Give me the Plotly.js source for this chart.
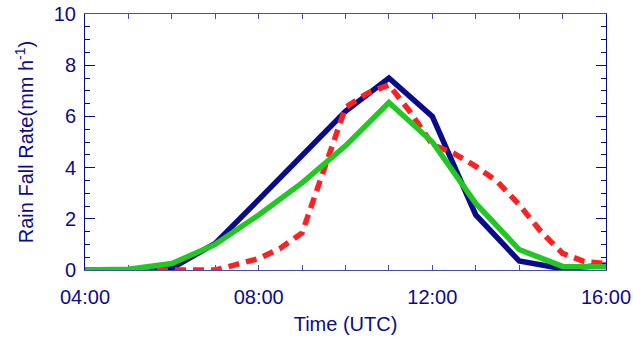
<!DOCTYPE html>
<html>
<head>
<meta charset="utf-8">
<script src="https://cdn.plot.ly/plotly-3.0.1.min.js"></script>
<style>
  html, body { margin: 0; padding: 0; background: #ffffff; }
  #chart { width: 633px; height: 340px; }
</style>
</head>
<body>
<div id="chart"></div>
<script>
// ---- data ----
const blueHours  = [4, 5, 6, 7, 8, 9, 10, 11, 12, 13, 14, 15, 16];
const blueRate   = [0, 0, 0.07, 1.04, 2.75, 4.5, 6.2, 7.5, 6.0, 2.15, 0.35, 0.05, 0.2];

const greenHours = [4, 5, 6, 7, 8, 9, 10, 11, 12, 13, 14, 15, 16];
const greenRate  = [0, 0.03, 0.25, 1.0, 2.15, 3.4, 4.85, 6.54, 5.0, 2.6, 0.8, 0.14, 0.13];

const redHours   = [4, 4.5, 5, 5.5, 6, 6.5, 7, 7.5, 8, 8.5, 9, 9.5, 10, 10.5, 11, 11.5, 12, 12.5, 13, 13.5, 14, 14.5, 15, 15.5, 16];
const redRate    = [0, 0, 0, 0, 0, 0, 0, 0.22, 0.45, 0.85, 1.45, 3.9, 6.35, 6.9, 7.23, 6.15, 4.9, 4.55, 4.05, 3.45, 2.55, 1.5, 0.65, 0.33, 0.25];

const xTickVals  = [4, 8, 12, 16];
const xTickText  = ['04:00', '08:00', '12:00', '16:00'];

const yTickVals  = [0, 2, 4, 6, 8, 10];
const yTickText  = ['0', '2', '4', '6', '8', '10'];

const navy = '#0b0b8a';
const axisLight = '#4a4ab4';
const fontFam = '"Liberation Sans", Arial, Helvetica, sans-serif';
const fs = 20;

const traces = [
  { x: blueHours, y: blueRate, type: 'scatter', mode: 'lines',
    line: { color: '#0a0a8c', width: 5.5 }, hoverinfo: 'skip' },
  { x: redHours, y: redRate, type: 'scatter', mode: 'lines',
    line: { color: '#ff2020', width: 5.5, dash: '11px,7px' }, hoverinfo: 'skip' },
  { x: greenHours, y: greenRate, type: 'scatter', mode: 'lines',
    line: { color: '#22c822', width: 5.5 }, hoverinfo: 'skip' }
];

const layout = {
  width: 633, height: 340,
  margin: { l: 85, r: 27, t: 14, b: 70, pad: 0 },
  paper_bgcolor: '#ffffff', plot_bgcolor: '#ffffff',
  showlegend: false,
  font: { family: fontFam, color: navy, size: fs },
  xaxis: {
    range: [4, 16], tickmode: 'array', tickvals: xTickVals, ticktext: xTickText,
    ticks: 'inside', ticklen: 5, tickwidth: 1, tickcolor: axisLight,
    minor: { tickmode: 'linear', tick0: 4, dtick: 1, ticks: 'inside', ticklen: 5, tickwidth: 1, tickcolor: axisLight, showgrid: false },
    showline: true, linecolor: axisLight, linewidth: 1, mirror: 'ticks',
    showgrid: false, zeroline: false, layer: 'below traces',
    tickfont: { family: fontFam, size: fs, color: navy },
    ticklabelstandoff: 9,
    automargin: false,
    title: { text: 'Time (UTC)', font: { family: fontFam, size: fs, color: navy }, standoff: 9 }
  },
  yaxis: {
    range: [0, 10], tickmode: 'array', tickvals: yTickVals, ticktext: yTickText,
    ticks: 'inside', ticklen: 10, tickwidth: 1, tickcolor: navy,
    minor: { tickmode: 'linear', tick0: 0, dtick: 0.5, ticks: 'inside', ticklen: 5, tickwidth: 1, tickcolor: navy, showgrid: false },
    showline: true, linecolor: navy, linewidth: 1, mirror: 'ticks',
    showgrid: false, zeroline: false, layer: 'below traces',
    tickfont: { family: fontFam, size: fs, color: navy },
    ticklabelstandoff: 4,
    automargin: false,
    title: { text: 'Rain Fall Rate(mm h<sup>-1</sup>)', font: { family: fontFam, size: fs, color: navy }, standoff: 14 }
  }
};

Plotly.newPlot('chart', traces, layout, { staticPlot: true, displayModeBar: false }).then(function () {
  // let the thick lines at zero spill over the frame as in the reference
  document.querySelectorAll('.cartesianlayer .plot').forEach(function (g) {
    g.removeAttribute('clip-path');
  });
});
</script>
</body>
</html>
